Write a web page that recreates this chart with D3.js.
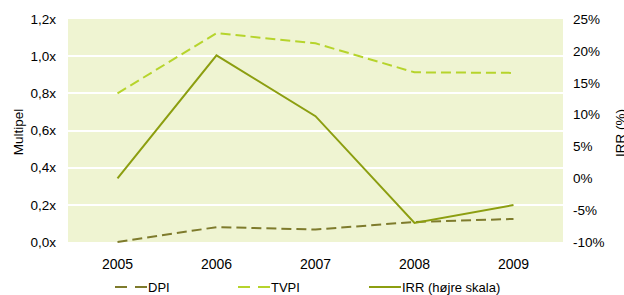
<!DOCTYPE html>
<html>
<head>
<meta charset="utf-8">
<script src="https://cdn.jsdelivr.net/npm/d3@7"></script>
<style>
  body { margin: 0; background: #fff; }
  svg text { font-family: "Liberation Sans", Arial, sans-serif; fill: #000; }
</style>
</head>
<body>
<div id="chart"></div>
<script>
var years = ["2005", "2006", "2007", "2008", "2009"];
var dpi = [0.0, 0.08, 0.067, 0.108, 0.124];
var tvpi = [0.80, 1.124, 1.069, 0.913, 0.91];
var irr = [0.0, 19.3, 9.75, -7.0, -4.2];
var leftTicks = [0, 0.2, 0.4, 0.6, 0.8, 1.0, 1.2];
var rightTicks = [-10, -5, 0, 5, 10, 15, 20, 25];

var width = 624, height = 295;
var plotL = 68, plotR = 563, plotT = 19, plotB = 242;

var svg = d3.select("#chart").append("svg").attr("width", width).attr("height", height);

var x = d3.scaleBand().domain(years).range([plotL, plotR]);
var y = d3.scaleLinear().domain([0, 1.2]).range([plotB, plotT]);
var y2 = d3.scaleLinear().domain([-10, 25]).range([plotB, plotT]);

// plot background
svg.append("rect").attr("x", plotL).attr("y", plotT)
   .attr("width", plotR - plotL).attr("height", plotB - plotT)
   .attr("fill", "#eff4d2");

// gridlines
svg.selectAll(".grid").data(leftTicks.slice(1, -1)).enter().append("line")
   .attr("x1", plotL).attr("x2", plotR)
   .attr("y1", function(d) { return Math.round(y(d)); })
   .attr("y2", function(d) { return Math.round(y(d)); })
   .attr("stroke", "#fff").attr("stroke-width", 2);

var fmtLeft = function(d) { return d3.format(".1f")(d).replace(".", ",") + "x"; };

var yAxis = svg.append("g").attr("transform", "translate(" + (plotL - 12) + ",0)")
   .call(d3.axisLeft(y).tickValues(leftTicks).tickFormat(fmtLeft).tickSize(0).tickPadding(0));
var y2Axis = svg.append("g").attr("transform", "translate(" + (plotR + 10) + ",0)")
   .call(d3.axisRight(y2).tickValues(rightTicks).tickFormat(function(d) { return d + "%"; }).tickSize(0).tickPadding(0));
var xAxis = svg.append("g").attr("transform", "translate(0," + (plotB + 14) + ")")
   .call(d3.axisBottom(x).tickSize(0).tickPadding(0));

[yAxis, y2Axis, xAxis].forEach(function(a) {
  a.select(".domain").remove();
  a.selectAll("text").style("font-size", "13.5px").attr("fill", "#000")
   .style("font-family", "'Liberation Sans', Arial, sans-serif");
});
xAxis.selectAll("text").style("font-size", "14px").attr("dy", "0.9em");

// axis titles
svg.append("text").attr("transform", "translate(23,132) rotate(-90)")
   .attr("text-anchor", "middle").style("font-size", "13.5px").text("Multipel");
svg.append("text").attr("transform", "translate(625,133) rotate(-90)")
   .attr("text-anchor", "middle").style("font-size", "13.5px").text("IRR (%)");

var cx = function(d, i) { return x(years[i]) + x.bandwidth() / 2; };

var series = [
  { name: "DPI", values: dpi, scale: y, color: "#7e7b2c", dash: "10,5" },
  { name: "TVPI", values: tvpi, scale: y, color: "#b6d42c", dash: "10,5" },
  { name: "IRR (højre skala)", values: irr, scale: y2, color: "#8c9e10", dash: null }
];

series.forEach(function(s) {
  var line = d3.line().x(cx).y(function(d) { return s.scale(d); });
  svg.append("path").datum(s.values)
     .attr("d", line)
     .attr("fill", "none")
     .attr("stroke", s.color)
     .attr("stroke-width", 2)
     .attr("stroke-dasharray", s.dash);
});

// legend
var legendX = [115, 238, 369];
var legend = svg.selectAll(".legend").data(series).enter().append("g")
   .attr("transform", function(d, i) { return "translate(" + legendX[i] + ",287)"; });
legend.append("line").attr("x1", 0).attr("x2", 32).attr("y1", 0).attr("y2", 0)
   .attr("stroke", function(d) { return d.color; }).attr("stroke-width", 2)
   .attr("stroke-dasharray", function(d) { return d.dash ? "12,8" : null; });
legend.append("text").attr("x", 33).attr("y", 5).style("font-size", "13px")
   .text(function(d) { return d.name; });
</script>
</body>
</html>
